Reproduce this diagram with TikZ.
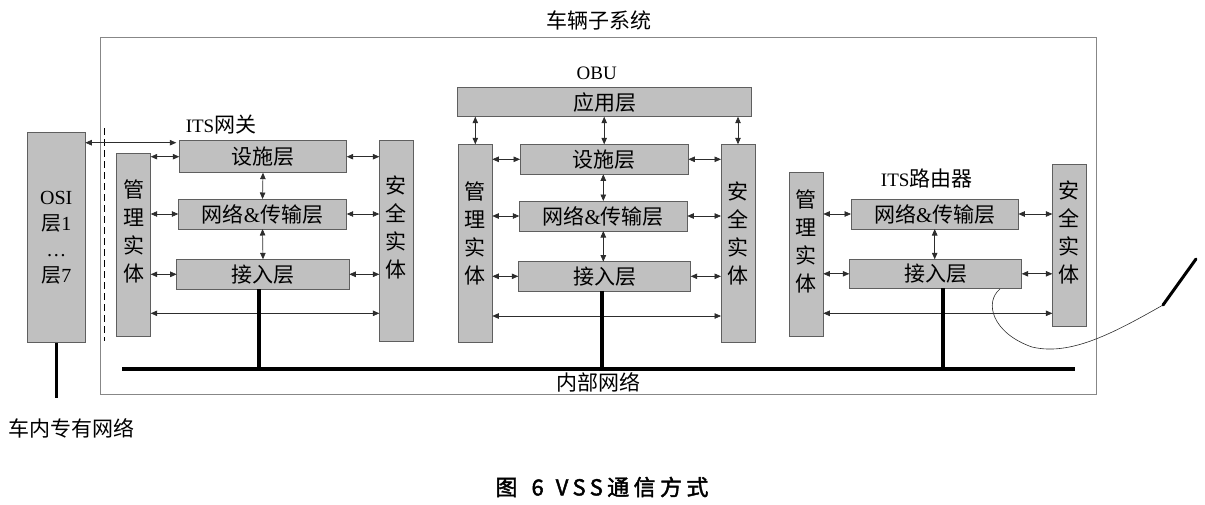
\documentclass[tikz,border=0pt]{standalone}
\usepackage{fontspec}
\setmainfont{Liberation Serif}
\newfontfamily\cjk{Noto Sans CJK SC}
\newfontfamily\capfont[LetterSpace=20,FakeBold=2]{Noto Sans CJK SC}
\usetikzlibrary{arrows.meta}
\definecolor{boxfill}{RGB}{192,192,192}
\definecolor{boxline}{RGB}{95,95,95}
\definecolor{arrowc}{RGB}{45,45,45}
\definecolor{outerc}{RGB}{135,135,135}
\newcommand\zh[1]{{\cjk #1}}
\newcommand\lat[1]{{\fontsize{19}{22}\selectfont #1}}
\begin{document}
\begin{tikzpicture}[x=1pt,y=-1pt,
 box/.style={draw=boxline, fill=boxfill, line width=0.8pt, inner sep=0pt, outer sep=0pt,
   font=\fontsize{21}{28}\selectfont\cjk, align=center},
 vt/.style={inner sep=0pt, font=\fontsize{21}{28}\selectfont\cjk, align=center},
 dbl/.style={{Triangle[length=6.5pt,width=5.5pt]}-{Triangle[length=6.5pt,width=5.5pt]}, line width=0.7pt, draw=arrowc},
 lbl/.style={font=\fontsize{21}{24}\selectfont, inner sep=0pt},
 bus/.style={line width=4pt, draw=black}]
\useasboundingbox (0,0) rectangle (1205,504);

% outer system box
\node[draw=outerc, line width=0.8pt, minimum width=996pt, minimum height=357pt, inner sep=0pt, outer sep=0pt] (sys) at (598.7,215.5) {};
\node[lbl] (sysl) at (599,20) {\zh{车辆子系统}};

% OSI
\node[box, font=\fontsize{20}{26}\selectfont, minimum width=58pt, minimum height=210pt] (osi) at (56.3,237.5) {OSI\\\zh{层}1\\…\\\zh{层}7};
\coordinate (osiEnd) at (56.3,398);
\draw[line width=3pt] (osi.south) -- (osiEnd);
\node[lbl] (prv) at (72,428) {\zh{车内专有网络}};

% dashed boundary
\coordinate (dT) at (104.3,128);
\coordinate (dB) at (104.3,341);
\draw[line width=1.2pt, dash pattern=on 7pt off 4pt] (dT) -- (dB);

% bus
\coordinate (busL) at (122,369);
\coordinate (busR) at (1075,369);
\draw[bus] (busL) -- (busR);
\node[lbl] (busl) at (598,382) {\zh{内部网络}};

% ---------- ITS gateway ----------
\node[lbl] (gl) at (221,125) {\lat{ITS}\zh{网关}};
\node[box, minimum width=34.4pt, minimum height=182.3pt] (gM) at (133.5,244.9) {};
\node[vt] at ([yshift=13pt]gM.center) {管\\理\\实\\体};
\node[box, minimum width=167.4pt, minimum height=32pt] (gF) at (263,156.7) {设施层};
\node[box, minimum width=168.4pt, minimum height=30pt] (gN) at (262.5,214) {网络\textrm{\&}传输层};
\node[box, minimum width=172.6pt, minimum height=30pt] (gA) at (263,274.3) {接入层};
\node[box, minimum width=33.7pt, minimum height=200.3pt] (gS) at (396.2,240.9) {};
\node[vt] at ([yshift=13pt]gS.center) {安\\全\\实\\体};

\draw[dbl] (osi.east |- 0,142.7) -- ([xshift=-3pt]gF.west |- 0,142.7);
\draw[dbl] (gM.east |- gF.west) -- (gF.west);
\draw[dbl] (gM.east |- gN.west) -- (gN.west);
\draw[dbl] (gM.east |- gA.west) -- (gA.west);
\draw[dbl] (gF.east) -- (gS.west |- gF.east);
\draw[dbl] (gN.east) -- (gS.west |- gN.east);
\draw[dbl] (gA.east) -- (gS.west |- gA.east);
\draw[dbl] (gM.east |- 0,313.3) -- (gS.west |- 0,313.3);
\draw[dbl] (gF.south) -- (gN.north);
\draw[dbl] (gN.south) -- (gA.north);
\draw[bus] ([xshift=-3.7pt]gA.south) -- ([xshift=-3.7pt]gA.south |- busL);

% ---------- OBU ----------
\node[lbl] (ol) at (596.7,73.3) {\lat{OBU}};
\node[box, minimum width=294.4pt, minimum height=29pt] (oApp) at (604.5,102.2) {应用层};
\node[box, minimum width=34pt, minimum height=198.4pt] (oM) at (475.3,243.5) {};
\node[vt] at ([yshift=10pt]oM.center) {管\\理\\实\\体};
\node[box, minimum width=34pt, minimum height=198.4pt] (oS) at (738,243.5) {};
\node[vt] at ([yshift=10pt]oS.center) {安\\全\\实\\体};
\node[box, minimum width=168.3pt, minimum height=30pt] (oF) at (604.2,159.3) {设施层};
\node[box, minimum width=168pt, minimum height=30pt] (oN) at (603.3,216) {网络\textrm{\&}传输层};
\node[box, minimum width=172.4pt, minimum height=29.3pt] (oA) at (604.5,276.3) {接入层};

\draw[dbl] (oApp.south -| oM.north) -- (oM.north);
\draw[dbl] (oApp.south -| oF.north) -- (oF.north);
\draw[dbl] (oApp.south -| oS.north) -- (oS.north);
\draw[dbl] (oM.east |- oF.west) -- (oF.west);
\draw[dbl] (oM.east |- oN.west) -- (oN.west);
\draw[dbl] (oM.east |- oA.west) -- (oA.west);
\draw[dbl] (oF.east) -- (oS.west |- oF.east);
\draw[dbl] (oN.east) -- (oS.west |- oN.east);
\draw[dbl] (oA.east) -- (oS.west |- oA.east);
\draw[dbl] (oM.east |- 0,316) -- (oS.west |- 0,316);
\draw[dbl] (oF.south -| oN.north) -- (oN.north);
\draw[dbl] (oN.south) -- (oA.north -| oN.south);
\draw[bus] ([xshift=-2.8pt]oA.south) -- ([xshift=-2.8pt]oA.south |- busL);

% ---------- ITS router ----------
\node[lbl] (rl) at (926.7,178.3) {\lat{ITS}\zh{路由器}};
\node[box, minimum width=34pt, minimum height=163.3pt] (rM) at (806.3,254.3) {};
\node[vt] at ([yshift=13pt]rM.center) {管\\理\\实\\体};
\node[box, minimum width=167.3pt, minimum height=30pt] (rN) at (934.7,214) {网络\textrm{\&}传输层};
\node[box, minimum width=172.4pt, minimum height=29pt] (rA) at (935.5,273.8) {接入层};
\node[box, minimum width=33.7pt, minimum height=162.7pt] (rS) at (1069.2,245.3) {};
\node[vt] at ([yshift=13pt]rS.center) {安\\全\\实\\体};

\draw[dbl] (rM.east |- rN.west) -- (rN.west);
\draw[dbl] (rM.east |- rA.west) -- (rA.west);
\draw[dbl] (rN.east) -- (rS.west |- rN.east);
\draw[dbl] (rA.east) -- (rS.west |- rA.east);
\draw[dbl] (rM.east |- 0,313.3) -- (rS.west |- 0,313.3);
\draw[dbl] (rN.south) -- (rA.north -| rN.south);
\draw[bus] ([xshift=7.8pt]rA.south) -- ([xshift=7.8pt]rA.south |- busL);

% antenna wire
\coordinate (wS) at (1000,289);
\coordinate (ant1) at (1163,305);
\coordinate (ant2) at (1196,259);
\draw[line width=0.6pt, draw=arrowc] (wS) .. controls (984,302) and (992,333) .. (1032,347)
  .. controls (1070,356) and (1112,334) .. (ant1);
\draw[line width=3pt, line cap=round] (ant1) -- (ant2);

% caption
\node[inner sep=0pt, font=\fontsize{22}{26}\selectfont\capfont] (cap) at (602,487) {图\kern 14pt 6\kern 12pt VSS通信方式};
\end{tikzpicture}
\end{document}
